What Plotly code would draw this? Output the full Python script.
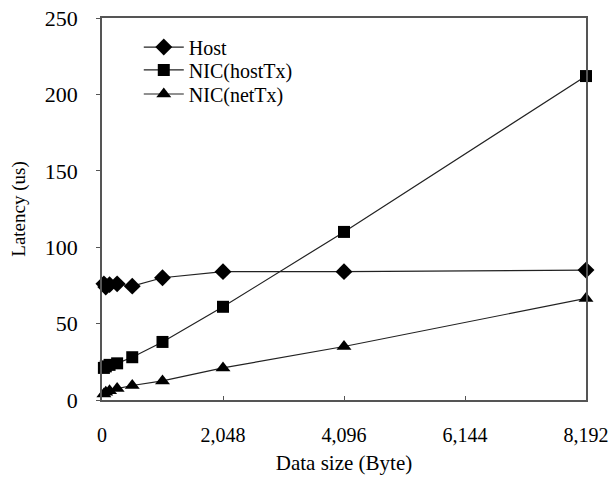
import plotly.graph_objects as go

data_size = [32, 64, 128, 256, 512, 1024, 2048, 4096, 8192]
host = [76, 74, 75.5, 76, 74.5, 80, 84, 84, 85]
nic_hosttx = [21, 22, 23, 24, 28, 38, 61, 110, 212]
nic_nettx = [4, 5, 6, 7.5, 9.5, 12.5, 21, 35, 66.5]

x_ticks = [0, 2048, 4096, 6144, 8192]
y_ticks = [0, 50, 100, 150, 200, 250]

font_family = "Liberation Serif, Times New Roman, serif"

series = [
    ("Host", host, "diamond", 13, "legend", 0.924),
    ("NIC(hostTx)", nic_hosttx, "square", 12, "legend2", 0.864),
    ("NIC(netTx)", nic_nettx, "triangle-up", 13, "legend3", 0.801),
]

fig = go.Figure()
legends = {}
for name, vals, sym, sz, leg, ly in series:
    fig.add_trace(go.Scatter(
        x=data_size, y=vals, name=name, mode="lines+markers",
        line=dict(color="#222222", width=1.2),
        marker=dict(symbol=sym, size=sz, color="black"),
        cliponaxis=False, legend=leg, showlegend=True,
    ))
    legends[leg] = dict(
        x=0.076, y=ly, xanchor="left", yanchor="middle",
        bgcolor="rgba(0,0,0,0)", font=dict(family=font_family, size=20),
        itemwidth=40, visible=True,
    )

axis_common = dict(
    showline=True, linecolor="#555555", linewidth=1.5, mirror=True,
    showgrid=False, zeroline=False, ticklen=4, tickcolor="#555555",
    automargin=False,
)

fig.update_layout(
    width=611, height=477,
    showlegend=True,
    margin=dict(l=102, r=25, t=18, b=77),
    paper_bgcolor="white", plot_bgcolor="white",
    font=dict(family=font_family, size=20, color="black"),
    xaxis=dict(
        range=[0, 8192], tickvals=x_ticks, tickformat=",d", ticks="inside",
        ticklabelstandoff=16,
        tickfont=dict(family=font_family, size=20, color="black"),
        title=dict(text="Data size (Byte)", font=dict(family=font_family, size=21), standoff=11),
        **axis_common,
    ),
    yaxis=dict(
        range=[0, 250], tickvals=y_ticks, ticks="outside",
        ticklabelstandoff=14,
        tickfont=dict(family=font_family, size=22, color="black"),
        title=dict(text="Latency (us)", font=dict(family=font_family, size=19), standoff=14),
        **axis_common,
    ),
    **legends,
)

fig.write_html("out.html")
